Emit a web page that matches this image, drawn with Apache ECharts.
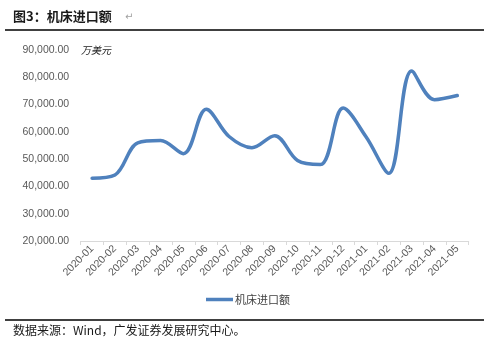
<!DOCTYPE html>
<html>
<head>
<meta charset="utf-8">
<script src="https://cdn.jsdelivr.net/npm/echarts@6/dist/echarts.min.js"></script>
<style>
  html, body { margin: 0; padding: 0; background: #ffffff; }
  #chart { width: 484px; height: 350px; }
</style>
</head>
<body>
<div id="chart"></div>
<script>
// Monthly machine-tool imports, 10k USD
const months = ['2020-01','2020-02','2020-03','2020-04','2020-05','2020-06','2020-07','2020-08','2020-09',
                '2020-10','2020-11','2020-12','2021-01','2021-02','2021-03','2021-04','2021-05'];
const importValues = [43000, 44200, 56000, 56800, 52000, 68300, 58300, 54200, 58600,
                      49500, 48000, 68700, 58200, 44800, 82300, 71800, 73300];
const seriesName = '机床进口额';
const titleText = '图3：机床进口额';
const unitText = '万美元';
const sourceText = '数据来源：Wind，广发证券发展研究中心。';

const chart = echarts.init(document.getElementById('chart'), null, { renderer: 'canvas' });

const fmt = v => v.toLocaleString('en-US', { minimumFractionDigits: 2, maximumFractionDigits: 2 });

chart.setOption({
  backgroundColor: '#ffffff',
  animation: false,
  grid: { left: 80.7, right: 15.3, top: 50, bottom: 109 },
  legend: {
    data: [seriesName],
    left: 206,
    top: 294,
    padding: 0,
    itemWidth: 27,
    itemHeight: 3.5,
    icon: 'rect',
    itemStyle: { color: '#4F81BD' },
    textStyle: { fontFamily: 'Noto Sans CJK SC', fontSize: 11, color: '#404040', padding: [0, 0, 0, -3] }
  },
  xAxis: {
    type: 'category',
    data: months,
    boundaryGap: true,
    axisLine: { lineStyle: { color: '#d9d9d9', width: 1 } },
    axisTick: { show: true, length: 4, lineStyle: { color: '#d9d9d9' } },
    axisLabel: {
      rotate: 45,
      margin: 6,
      color: '#595959',
      fontFamily: 'Liberation Sans, Arial',
      fontSize: 10.5,
      interval: 0
    },
    splitLine: { show: false }
  },
  yAxis: {
    type: 'value',
    min: 20000,
    max: 90000,
    interval: 10000,
    axisLine: { show: false },
    axisTick: { show: false },
    splitLine: { show: false },
    axisLabel: {
      margin: 11.5,
      color: '#595959',
      fontFamily: 'Liberation Sans, Arial',
      fontSize: 10.5,
      formatter: fmt
    }
  },
  series: [{
    name: seriesName,
    type: 'line',
    data: importValues,
    smooth: 0.35,
    symbol: 'none',
    lineStyle: { color: '#4F81BD', width: 3.5, cap: 'round', join: 'round' },
    itemStyle: { color: '#4F81BD' }
  }],
  graphic: [
    // heading with its rule
    { type: 'text', left: 13, top: 10, style: { text: titleText, font: 'bold 13px "Noto Sans CJK SC"', fill: '#1a1a1a' } },
    { type: 'text', left: 125, top: 12, style: { text: '↵', font: '10px "DejaVu Sans"', fill: '#a0a0a0' } },
    { type: 'line', shape: { x1: 5, y1: 30, x2: 484, y2: 30 }, style: { stroke: '#000000', lineWidth: 1.5 } },
    // unit note
    { type: 'text', left: 81, top: 45, style: { text: unitText, font: 'italic 10px "Noto Sans CJK SC"', fill: '#1a1a1a' } },
    // footer rule and source
    { type: 'line', shape: { x1: 5, y1: 320, x2: 484, y2: 320 }, style: { stroke: '#000000', lineWidth: 1.5 } },
    { type: 'text', left: 13, top: 324, style: { text: sourceText, font: '12px "Noto Sans CJK SC"', fill: '#1a1a1a' } }
  ]
});
</script>
</body>
</html>
